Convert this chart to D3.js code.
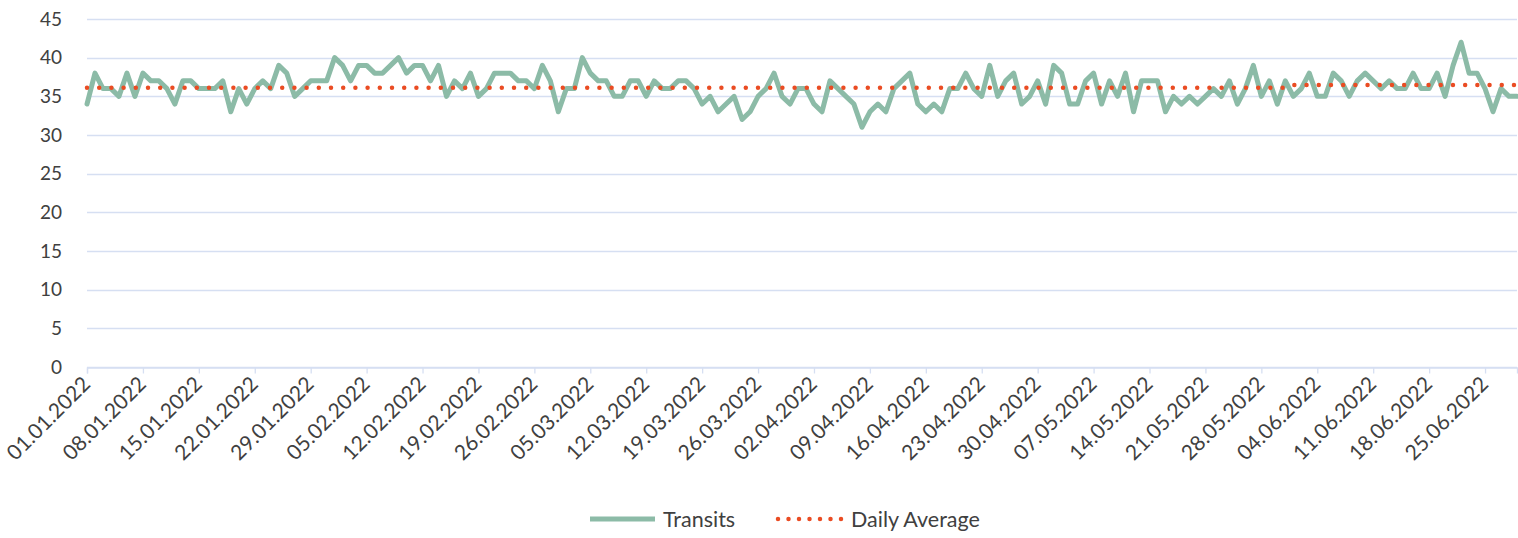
<!DOCTYPE html>
<html lang="en">
<head>
<meta charset="utf-8">
<title>Transits and Daily Average</title>
<script src="https://cdn.jsdelivr.net/npm/d3@7"></script>
<style>
  body { margin: 0; background: #fff; }
  text { font-family: Lato, "Open Sans", sans-serif; fill: #404040; }
</style>
</head>
<body>
<script>

// first day of the series, one value per day
var startDay = "2022-01-01";

// daily transits, 01.01.2022 - 29.06.2022
var transits = [
  34,38,36,36,35,38,35,38,37,37,36,34,37,37,36,36,36,
  37,33,36,34,36,37,36,39,38,35,36,37,37,37,40,
  39,37,39,39,38,38,39,40,38,39,39,37,39,35,37,36,
  38,35,36,38,38,38,37,37,36,39,37,33,36,36,
  40,
  38,37,37,35,35,37,37,35,37,36,36,37,37,36,34,35,
  33,34,35,32,33,35,36,38,35,34,36,36,34,33,
  37,36,35,34,31,33,34,33,36,37,38,34,33,34,33,36,36,
  38,36,35,39,35,37,38,34,35,37,34,39,38,34,34,
  37,38,34,37,35,38,33,37,37,37,33,35,34,35,34,35,
  36,35,37,34,36,39,35,37,34,37,35,36,38,35,35,38,
  37,35,37,38,37,36,37,36,36,38,36,36,38,35,39,42,38,38,36,33,36,35,35
];

// daily average, one value per month (Jan..Jun)
var avgMonths = ["01", "02", "03", "04", "05", "06"];
var avgValues = [36.1, 36.1, 36.1, 36.1, 36.1, 36.45];

var yTicks = [0, 5, 10, 15, 20, 25, 30, 35, 40, 45];
var seriesNames = ["Transits", "Daily Average"];

// sizes
var w = 1518;
var h = 538;
var plotLeft = 87, plotRight = 1517, plotTop = 19, plotBottom = 367;

var green = "#8cbba7";
var red = "#ea4c23";
var grid = "#d6dff2";

var parse = d3.timeParse("%Y-%m-%d");
var day0 = parse(startDay);
var days = d3.timeDay.range(day0, d3.timeDay.offset(day0, transits.length));

var rows = days.map(function(d, i) {
  return { date: d, value: transits[i], avg: avgValues[avgMonths.indexOf(d3.timeFormat("%m")(d))] };
});

var x = d3.scaleTime().domain([days[0], days[days.length - 1]]).range([plotLeft, plotRight]);
var y = d3.scaleLinear().domain([0, 45]).range([plotBottom, plotTop]);

var svg = d3.select("body").append("svg")
  .attr("width", w)
  .attr("height", h);

// gridlines
svg.append("g").selectAll("line")
  .data(yTicks)
  .enter().append("line")
  .attr("x1", plotLeft).attr("x2", plotRight)
  .attr("y1", function(d) { return Math.round(y(d)) + 0.5; })
  .attr("y2", function(d) { return Math.round(y(d)) + 0.5; })
  .attr("stroke", grid)
  .attr("stroke-width", 1.3);

// y labels
svg.append("g").selectAll("text")
  .data(yTicks)
  .enter().append("text")
  .attr("x", 62)
  .attr("y", function(d) { return y(d); })
  .attr("dy", "0.35em")
  .attr("text-anchor", "end")
  .style("font-size", "19px")
  .text(function(d) { return d; });

// x axis: a tick every 7 days
var tickDays = days.filter(function(d, i) { return i % 7 === 0; });
var fmt = d3.timeFormat("%d.%m.%Y");

var xAxis = d3.axisBottom(x)
  .tickValues(tickDays)
  .tickSize(6)
  .tickFormat(fmt);

var gx = svg.append("g")
  .attr("transform", "translate(0," + (plotBottom + 0.5) + ")")
  .call(xAxis);

gx.select(".domain").attr("stroke", grid).attr("stroke-width", 1.3);
gx.selectAll(".tick line").attr("stroke", grid).attr("stroke-width", 1.3);
gx.selectAll(".tick text")
  .attr("y", 0)
  .attr("dy", 0)
  .attr("text-anchor", "end")
  .attr("transform", "translate(4,18) rotate(-45)")
  .style("font-size", "21px")
  .style("font-family", "Lato, sans-serif")
  .attr("fill", "#404040");

// lines
var line = d3.line()
  .x(function(d) { return x(d.date); })
  .y(function(d) { return y(d.value); });

var avgLine = d3.line()
  .x(function(d) { return x(d.date); })
  .y(function(d) { return y(d.avg); });

svg.append("path")
  .datum(rows)
  .attr("d", line)
  .attr("fill", "none")
  .attr("stroke", green)
  .attr("stroke-width", 5)
  .attr("stroke-linejoin", "round")
  .attr("stroke-linecap", "round");

svg.append("path")
  .datum(rows)
  .attr("d", avgLine)
  .attr("fill", "none")
  .attr("stroke", red)
  .attr("stroke-width", 4.5)
  .attr("stroke-linecap", "round")
  .attr("stroke-dasharray", "0 12.2");

// legend
var leg = svg.append("g");
leg.append("line")
  .attr("x1", 590).attr("x2", 655)
  .attr("y1", 519).attr("y2", 519)
  .attr("stroke", green).attr("stroke-width", 5);
leg.append("text")
  .attr("x", 663).attr("y", 519).attr("dy", "0.35em")
  .style("font-size", "21.5px")
  .text(seriesNames[0]);
leg.append("line")
  .attr("x1", 778).attr("x2", 842)
  .attr("y1", 519).attr("y2", 519)
  .attr("stroke", red).attr("stroke-width", 4.5)
  .attr("stroke-linecap", "round")
  .attr("stroke-dasharray", "0 10.5");
leg.append("text")
  .attr("x", 851).attr("y", 519).attr("dy", "0.35em")
  .style("font-size", "21.5px")
  .text(seriesNames[1]);

</script>
</body>
</html>
